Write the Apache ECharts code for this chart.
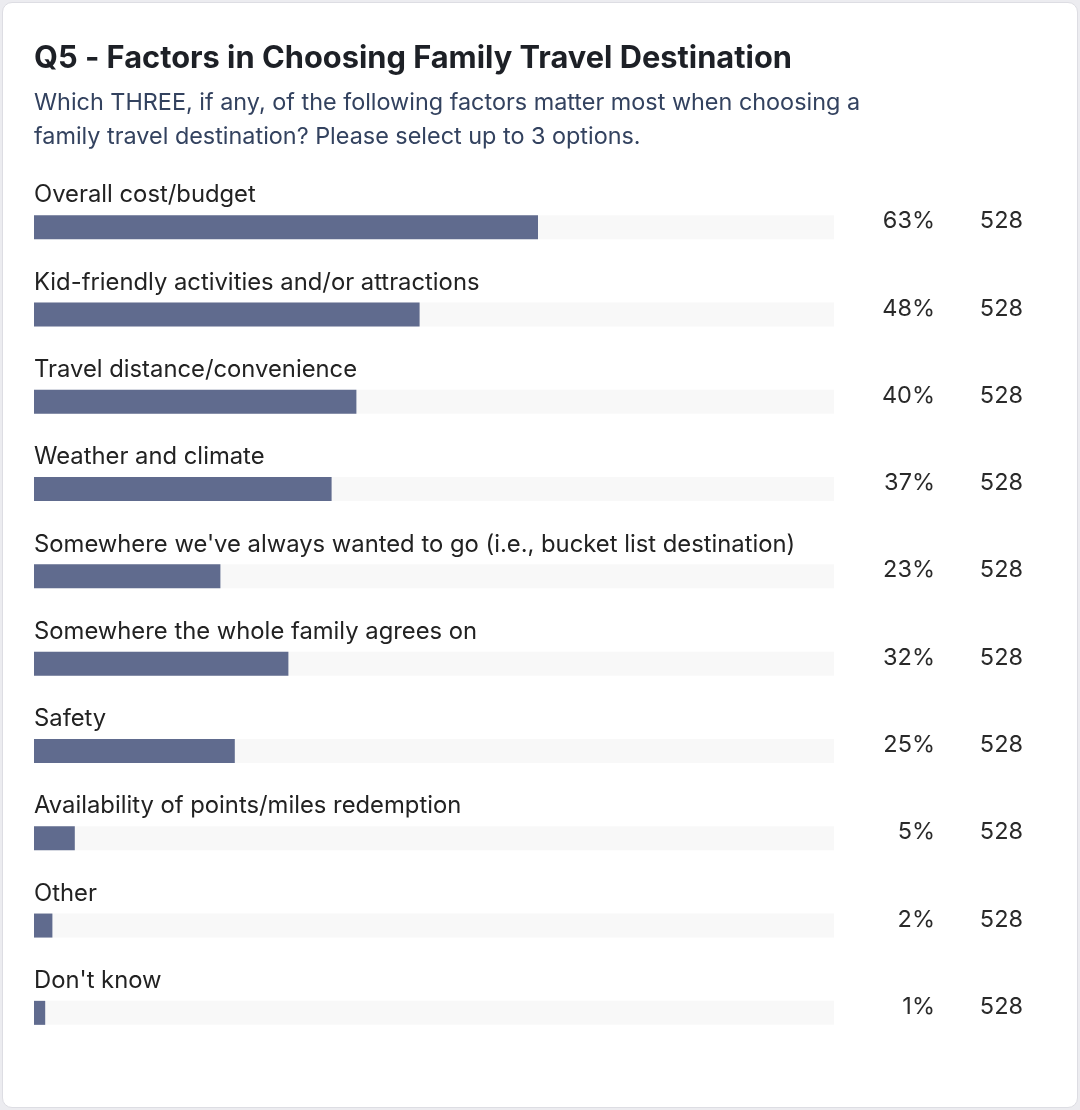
<!DOCTYPE html>
<html style="height: 100%">
<head>
<meta charset="utf-8">
<script src="https://cdn.jsdelivr.net/npm/echarts@6/dist/echarts.min.js"></script>
</head>
<body style="height: 100%; margin: 0; background: #ececf0">
<div id="card" style="position:absolute; left:2px; top:2px; width:1074px; height:1104px; background:#fff; border:1px solid #dddde3; border-radius:10px; overflow:hidden">
  <div id="container" style="position:absolute; left:-3px; top:-3px; width:1080px; height:1110px"></div>
</div>
<script type="text/javascript">
var categories = [
    'Overall cost/budget',
    'Kid-friendly activities and/or attractions',
    'Travel distance/convenience',
    'Weather and climate',
    "Somewhere we've always wanted to go (i.e., bucket list destination)",
    'Somewhere the whole family agrees on',
    'Safety',
    'Availability of points/miles redemption',
    'Other',
    "Don't know"
];
var percents = [63.0, 48.2, 40.3, 37.2, 23.3, 31.8, 25.1, 5.1, 2.3, 1.4];
var counts = [528, 528, 528, 528, 528, 528, 528, 528, 528, 528];

var dom = document.getElementById('container');
var myChart = echarts.init(dom);
var font = 'Inter, "Noto Sans", sans-serif';

var option = {
    animation: false,
    textStyle: { fontFamily: font },
    title: {
        text: 'Q5 - Factors in Choosing Family Travel Destination',
        subtext: 'Which THREE, if any, of the following factors matter most when choosing a\nfamily travel destination? Please select up to 3 options.',
        left: 34,
        top: 43,
        padding: 0,
        itemGap: 12,
        textStyle: { fontFamily: font, fontSize: 30.8, fontWeight: 'bold', color: '#1d2026' },
        subtextStyle: { fontFamily: font, fontSize: 23.4, color: '#33425f', lineHeight: 34 }
    },
    grid: { left: 34, right: 246, top: 183.5, bottom: 53.5 },
    xAxis: {
        type: 'value',
        min: 0,
        max: 100,
        show: false
    },
    yAxis: {
        type: 'category',
        inverse: true,
        data: categories,
        show: false
    },
    series: [
        {
            type: 'bar',
            data: percents,
            barWidth: 24,
            showBackground: true,
            backgroundStyle: { color: '#f8f8f8' },
            itemStyle: { color: '#606b8e' },
            label: {
                show: true,
                position: [901, 6],
                align: 'right',
                verticalAlign: 'middle',
                fontSize: 23.5,
                color: '#2a2a2a',
                fontFamily: font,
                formatter: function (p) { return Math.round(p.value) + '%'; }
            }
        },
        {
            type: 'bar',
            data: counts.map(function () { return 0; }),
            barWidth: 24,
            barGap: '-100%',
            itemStyle: { color: 'transparent' },
            label: {
                show: true,
                position: [989, 6],
                align: 'right',
                verticalAlign: 'middle',
                fontSize: 23.5,
                color: '#2a2a2a',
                fontFamily: font,
                formatter: function (p) { return counts[p.dataIndex]; }
            }
        },
        {
            // category names sit above each track
            type: 'bar',
            data: categories.map(function () { return 0; }),
            barWidth: 24,
            barGap: '-100%',
            itemStyle: { color: 'transparent' },
            label: {
                show: true,
                position: [0, -20],
                align: 'left',
                verticalAlign: 'middle',
                fontSize: 23.8,
                color: '#222222',
                fontFamily: font,
                formatter: function (p) { return categories[p.dataIndex]; }
            }
        }
    ]
};

myChart.setOption(option);
</script>
</body>
</html>
